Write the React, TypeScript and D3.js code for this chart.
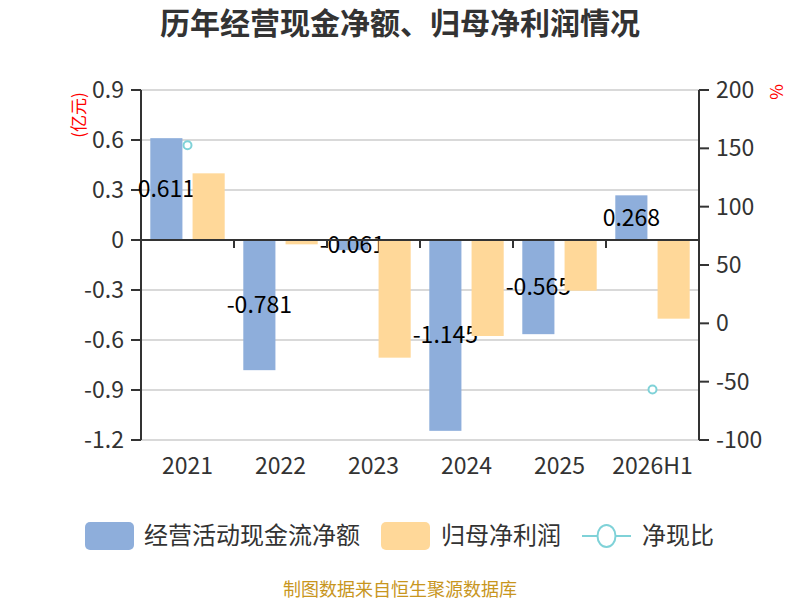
import React from "react";
import * as d3 from "d3";

const categories = ["2021", "2022", "2023", "2024", "2025", "2026H1"];
const cashFlow = [0.611, -0.781, -0.061, -1.145, -0.565, 0.268];
const netProfit = [0.4, -0.026, -0.706, -0.576, -0.304, -0.472];
const cashRatio: (number | null)[] = [152.7, null, null, null, null, -56.7];
const leftTicks = [0.9, 0.6, 0.3, 0, -0.3, -0.6, -0.9, -1.2];
const rightTicks = [200, 150, 100, 50, 0, -50, -100];

const W = 800;
const H = 600;
const margin = { top: 90, right: 101, bottom: 160, left: 141 };
const FONT = "'Noto Sans CJK SC', 'Noto Sans', sans-serif";

const BLUE = "#8eaedb";
const ORANGE = "#ffd899";
const TEAL = "#7fd2d8";

// plain hyphen instead of d3's unicode minus
const fmt = (spec: string) => {
  const f = d3.format(spec);
  return (v: number) => f(v).replace("\u2212", "-");
};
const fmt1 = fmt(".1f");
const fmt3 = fmt(".3f");

export default function App() {
  const x = d3
    .scaleBand<string>()
    .domain(categories)
    .range([margin.left, W - margin.right]);
  const bw = x.bandwidth();
  const sub = d3
    .scaleBand<string>()
    .domain(["cash", "profit"])
    .range([bw * 0.1, bw * 0.9])
    .paddingInner(0.24);

  const yL = d3.scaleLinear().domain([-1.2, 0.9]).range([H - margin.bottom, margin.top]);
  const yR = d3.scaleLinear().domain([-100, 200]).range([H - margin.bottom, margin.top]);

  const x0 = margin.left;
  const x1 = W - margin.right;
  const zeroY = yL(0);

  const barRect = (v: number) => ({ y: Math.min(yL(v), zeroY), h: Math.abs(yL(v) - zeroY) });

  return (
    <div style={{ position: "absolute", left: 0, top: 0 }}>
      <svg width={W} height={H} style={{ display: "block", fontFamily: FONT }}>
        <rect width={W} height={H} fill="#fff" />

        {/* title */}
        <text x={W / 2} y={34} textAnchor="middle" fontSize={30} fontWeight="bold" fill="#333">
          历年经营现金净额、归母净利润情况
        </text>

        {/* grid */}
        {leftTicks.map((t) => (
          <line key={t} x1={x0} x2={x1} y1={yL(t)} y2={yL(t)} stroke="#cccccc" strokeWidth={1.5} />
        ))}

        {/* left axis */}
        <line x1={x0} x2={x0} y1={yL(0.9)} y2={yL(-1.2)} stroke="#333" strokeWidth={2} />
        {leftTicks.map((t) => (
          <g key={t}>
            <line x1={x0 - 10} x2={x0} y1={yL(t)} y2={yL(t)} stroke="#333" strokeWidth={2} />
            <text x={x0 - 17} y={yL(t)} dy="0.35em" textAnchor="end" fontSize={23} fill="#333">
              {t === 0 ? "0" : fmt1(t)}
            </text>
          </g>
        ))}
        <text
          transform={`translate(79,115) rotate(-90)`}
          textAnchor="middle"
          dy="0.35em"
          fontSize={17}
          fill="#ff0000"
        >
          (亿元)
        </text>

        {/* right axis */}
        <line x1={x1} x2={x1} y1={yR(200)} y2={yR(-100)} stroke="#333" strokeWidth={2} />
        {rightTicks.map((t) => (
          <g key={t}>
            <line x1={x1} x2={x1 + 10} y1={yR(t)} y2={yR(t)} stroke="#333" strokeWidth={2} />
            <text x={x1 + 17} y={yR(t)} dy="0.35em" textAnchor="start" fontSize={23} fill="#333">
              {String(t)}
            </text>
          </g>
        ))}
        <text
          transform={`translate(777,92) rotate(-90)`}
          textAnchor="middle"
          dy="0.35em"
          fontSize={17}
          fill="#ff0000"
        >
          %
        </text>

        {/* cash flow bars */}
        {cashFlow.map((v, i) => {
          const r = barRect(v);
          return (
            <rect key={i} x={x(categories[i])! + sub("cash")!} y={r.y} width={sub.bandwidth()} height={r.h} fill={BLUE} />
          );
        })}
        {/* cash flow labels */}
        {cashFlow.map((v, i) => (
          <text
            key={i}
            x={x(categories[i])! + sub("cash")! + sub.bandwidth() / 2}
            y={(yL(v) + zeroY) / 2}
            dy="0.35em"
            textAnchor="middle"
            fontSize={23}
            fill="#000"
          >
            {fmt3(v)}
          </text>
        ))}

        {/* net profit bars */}
        {netProfit.map((v, i) => {
          const r = barRect(v);
          return (
            <rect key={i} x={x(categories[i])! + sub("profit")!} y={r.y} width={sub.bandwidth()} height={r.h} fill={ORANGE} />
          );
        })}

        {/* x axis at zero */}
        <line x1={x0} x2={x1} y1={zeroY} y2={zeroY} stroke="#333" strokeWidth={2} />
        {categories.slice(1).map((c) => (
          <line key={c} x1={x(c)!} x2={x(c)!} y1={zeroY} y2={zeroY + 8} stroke="#333" strokeWidth={2} />
        ))}
        {categories.map((c) => (
          <text key={c} x={x(c)! + bw / 2} y={474} textAnchor="middle" fontSize={23} fill="#333">
            {c}
          </text>
        ))}

        {/* cash ratio points */}
        {cashRatio.map((v, i) =>
          v == null ? null : (
            <circle key={i} cx={x(categories[i])! + bw / 2} cy={yR(v)} r={4} fill="#fff" stroke={TEAL} strokeWidth={2} />
          )
        )}

        {/* legend */}
        <g transform="translate(0,536)">
          <rect x={85} y={-14} width={49} height={28} rx={5} fill={BLUE} />
          <text x={144} dy="0.35em" fontSize={24} fill="#333">
            经营活动现金流净额
          </text>
          <rect x={381} y={-14} width={49} height={28} rx={5} fill={ORANGE} />
          <text x={441} dy="0.35em" fontSize={24} fill="#333">
            归母净利润
          </text>
          <line x1={582} x2={631} y1={0} y2={0} stroke={TEAL} strokeWidth={2} />
          <ellipse cx={606.5} cy={0} rx={9} ry={11} fill="#fff" stroke={TEAL} strokeWidth={2} />
          <text x={642} dy="0.35em" fontSize={24} fill="#333">
            净现比
          </text>
        </g>

        {/* source */}
        <text x={W / 2} y={596} textAnchor="middle" fontSize={18} fill="#c8961e">
          制图数据来自恒生聚源数据库
        </text>
      </svg>
    </div>
  );
}
